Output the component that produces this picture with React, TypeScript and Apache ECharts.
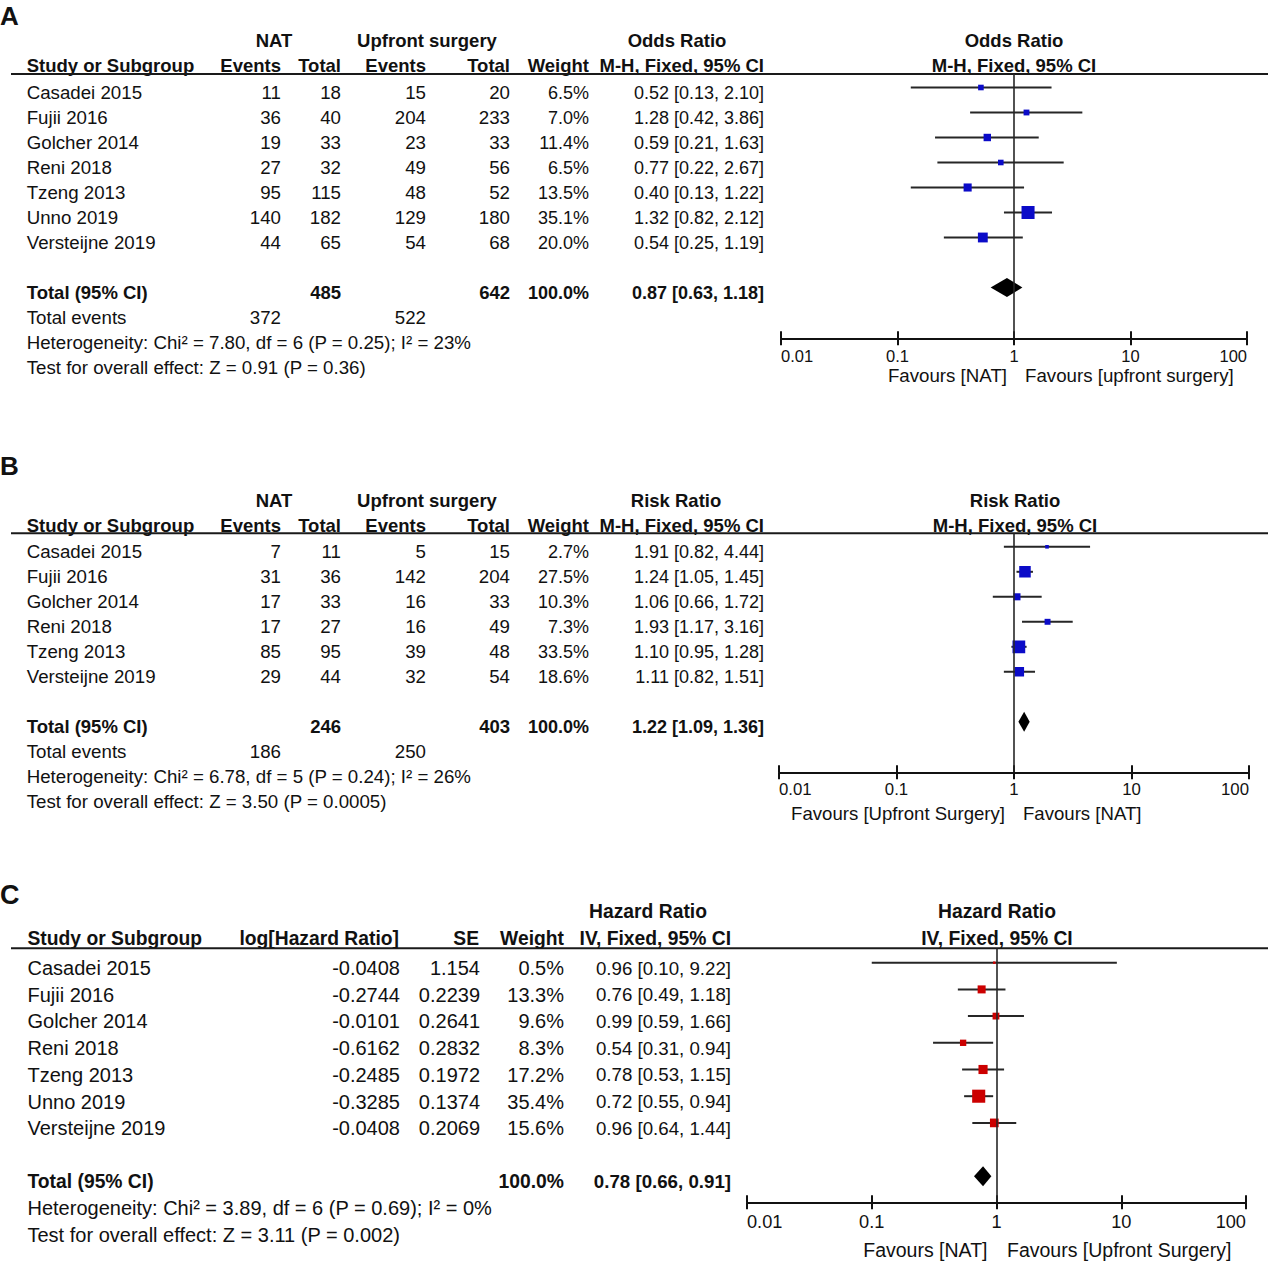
import React, { useEffect, useRef } from "react";
import * as echarts from "echarts";

// ---------------- Panel A : Odds Ratio ----------------
const studiesA = ["Casadei 2015", "Fujii 2016", "Golcher 2014", "Reni 2018", "Tzeng 2013", "Unno 2019", "Versteijne 2019"];
const natEventsA = [11, 36, 19, 27, 95, 140, 44];
const natTotalA = [18, 40, 33, 32, 115, 182, 65];
const upEventsA = [15, 204, 23, 49, 48, 129, 54];
const upTotalA = [20, 233, 33, 56, 52, 180, 68];
const weightA = [6.5, 7.0, 11.4, 6.5, 13.5, 35.1, 20.0];
const estA = [0.52, 1.28, 0.59, 0.77, 0.4, 1.32, 0.54];
const lowA = [0.13, 0.42, 0.21, 0.22, 0.13, 0.82, 0.25];
const highA = [2.1, 3.86, 1.63, 2.67, 1.22, 2.12, 1.19];
const totalsA = [485, 642];
const totalEventsA = [372, 522];
const pooledA = [0.87, 0.63, 1.18];
const hetA = "Heterogeneity: Chi² = 7.80, df = 6 (P = 0.25); I² = 23%";
const testA = "Test for overall effect: Z = 0.91 (P = 0.36)";
const favoursA = ["Favours [NAT]", "Favours [upfront surgery]"];

// ---------------- Panel B : Risk Ratio ----------------
const studiesB = ["Casadei 2015", "Fujii 2016", "Golcher 2014", "Reni 2018", "Tzeng 2013", "Versteijne 2019"];
const natEventsB = [7, 31, 17, 17, 85, 29];
const natTotalB = [11, 36, 33, 27, 95, 44];
const upEventsB = [5, 142, 16, 16, 39, 32];
const upTotalB = [15, 204, 33, 49, 48, 54];
const weightB = [2.7, 27.5, 10.3, 7.3, 33.5, 18.6];
const estB = [1.91, 1.24, 1.06, 1.93, 1.1, 1.11];
const lowB = [0.82, 1.05, 0.66, 1.17, 0.95, 0.82];
const highB = [4.44, 1.45, 1.72, 3.16, 1.28, 1.51];
const totalsB = [246, 403];
const totalEventsB = [186, 250];
const pooledB = [1.22, 1.09, 1.36];
const hetB = "Heterogeneity: Chi² = 6.78, df = 5 (P = 0.24); I² = 26%";
const testB = "Test for overall effect: Z = 3.50 (P = 0.0005)";
const favoursB = ["Favours [Upfront Surgery]", "Favours [NAT]"];

// ---------------- Panel C : Hazard Ratio ----------------
const studiesC = ["Casadei 2015", "Fujii 2016", "Golcher 2014", "Reni 2018", "Tzeng 2013", "Unno 2019", "Versteijne 2019"];
const logHrC = ["-0.0408", "-0.2744", "-0.0101", "-0.6162", "-0.2485", "-0.3285", "-0.0408"];
const seC = ["1.154", "0.2239", "0.2641", "0.2832", "0.1972", "0.1374", "0.2069"];
const weightC = [0.5, 13.3, 9.6, 8.3, 17.2, 35.4, 15.6];
const estC = [0.96, 0.76, 0.99, 0.54, 0.78, 0.72, 0.96];
const lowC = [0.1, 0.49, 0.59, 0.31, 0.53, 0.55, 0.64];
const highC = [9.22, 1.18, 1.66, 0.94, 1.15, 0.94, 1.44];
const pooledC = [0.78, 0.66, 0.91];
const hetC = "Heterogeneity: Chi² = 3.89, df = 6 (P = 0.69); I² = 0%";
const testC = "Test for overall effect: Z = 3.11 (P = 0.002)";
const favoursC = ["Favours [NAT]", "Favours [Upfront Surgery]"];

// ---------------- shared axis ----------------
const tickValues = [0.01, 0.1, 1, 10, 100];
const tickLabels = ["0.01", "0.1", "1", "10", "100"];

const FONT = "'Liberation Sans', Arial, sans-serif";
const INK = "#111";

// layout (pixels)
const LA = { rowY0: 92.5, rowH: 25, fs: 18.7, bfs: 18.5, cfs: 18, tfs: 16.5, ffs: 18.7, lineY: 74, axisY: 338.3, h1Y: 40.2, h2Y: 65.2, axL: 781, axR: 1247, favY: 375, favLx: 1007, favRx: 1025, letterY: 16, margin: 9, markDy: -5, diamondH: 19, leftX: 26.7 };
const LB = { rowY0: 551.8, rowH: 25, fs: 18.7, bfs: 18.5, cfs: 18, tfs: 16.8, ffs: 18.6, lineY: 533.3, axisY: 772.3, h1Y: 500.2, h2Y: 525.2, axL: 779, axR: 1249, favY: 813.5, favLx: 1005, favRx: 1023, letterY: 466, margin: 8.4, markDy: -5, diamondH: 20, leftX: 26.7 };
const LC = { rowY0: 968, rowH: 26.7, fs: 20, bfs: 19.3, cfs: 18.7, tfs: 18.2, ffs: 19.5, lineY: 948.3, axisY: 1202.3, h1Y: 911.4, h2Y: 938, axL: 747, axR: 1246, favY: 1249.8, favLx: 987.5, favRx: 1007, letterY: 895, margin: 10.6, markDy: -5.3, diamondH: 20, leftX: 27.5 };

function txt(text: string, x: number, y: number, size: number, align: string = "left", bold = false) {
  return {
    type: "text",
    x,
    y,
    silent: true,
    style: {
      text,
      fill: INK,
      fontFamily: FONT,
      fontSize: size,
      fontWeight: bold ? "bold" : "normal",
      align,
      verticalAlign: "middle",
    },
  };
}

function hline(y: number) {
  return { type: "line", silent: true, shape: { x1: 11, y1: y, x2: 1268, y2: y }, style: { stroke: "#1a1a1a", lineWidth: 2 } };
}

const ci = (e: number, l: number, h: number) => `${e.toFixed(2)} [${l.toFixed(2)}, ${h.toFixed(2)}]`;
const pct = (w: number) => `${w.toFixed(1)}%`;

function buildTexts() {
  const els: any[] = [];
  // ----- A -----
  {
    const L = LA;
    els.push(txt("A", 0, L.letterY, 26, "left", true));
    els.push(txt("NAT", 274, L.h1Y, L.bfs, "center", true));
    els.push(txt("Upfront surgery", 427, L.h1Y, L.bfs, "center", true));
    els.push(txt("Odds Ratio", 677, L.h1Y, L.bfs, "center", true));
    els.push(txt("Odds Ratio", 1014, L.h1Y, L.bfs, "center", true));
    els.push(txt("Study or Subgroup", L.leftX, L.h2Y, L.bfs, "left", true));
    els.push(txt("Events", 281, L.h2Y, L.bfs, "right", true));
    els.push(txt("Total", 341, L.h2Y, L.bfs, "right", true));
    els.push(txt("Events", 426, L.h2Y, L.bfs, "right", true));
    els.push(txt("Total", 510, L.h2Y, L.bfs, "right", true));
    els.push(txt("Weight", 589, L.h2Y, L.bfs, "right", true));
    els.push(txt("M-H, Fixed, 95% CI", 764, L.h2Y, L.bfs, "right", true));
    els.push(txt("M-H, Fixed, 95% CI", 1014, L.h2Y, L.bfs, "center", true));
    els.push(hline(L.lineY));
    studiesA.forEach((s, i) => {
      const y = L.rowY0 + i * L.rowH;
      els.push(txt(s, L.leftX, y, L.fs));
      els.push(txt(String(natEventsA[i]), 281, y, L.fs, "right"));
      els.push(txt(String(natTotalA[i]), 341, y, L.fs, "right"));
      els.push(txt(String(upEventsA[i]), 426, y, L.fs, "right"));
      els.push(txt(String(upTotalA[i]), 510, y, L.fs, "right"));
      els.push(txt(pct(weightA[i]), 589, y, L.cfs, "right"));
      els.push(txt(ci(estA[i], lowA[i], highA[i]), 764, y, L.cfs, "right"));
    });
    const n = studiesA.length;
    const yT = L.rowY0 + (n + 1) * L.rowH;
    els.push(txt("Total (95% CI)", L.leftX, yT, L.bfs, "left", true));
    els.push(txt(String(totalsA[0]), 341, yT, L.bfs, "right", true));
    els.push(txt(String(totalsA[1]), 510, yT, L.bfs, "right", true));
    els.push(txt("100.0%", 589, yT, L.cfs, "right", true));
    els.push(txt(ci(pooledA[0], pooledA[1], pooledA[2]), 764, yT, L.cfs, "right", true));
    const yE = L.rowY0 + (n + 2) * L.rowH;
    els.push(txt("Total events", L.leftX, yE, L.fs));
    els.push(txt(String(totalEventsA[0]), 281, yE, L.fs, "right"));
    els.push(txt(String(totalEventsA[1]), 426, yE, L.fs, "right"));
    els.push(txt(hetA, L.leftX, L.rowY0 + (n + 3) * L.rowH, L.fs));
    els.push(txt(testA, L.leftX, L.rowY0 + (n + 4) * L.rowH, L.fs));
    els.push(txt(favoursA[0], L.favLx, L.favY, L.ffs, "right"));
    els.push(txt(favoursA[1], L.favRx, L.favY, L.ffs, "left"));
  }
  // ----- B -----
  {
    const L = LB;
    els.push(txt("B", 0, L.letterY, 26, "left", true));
    els.push(txt("NAT", 274, L.h1Y, L.bfs, "center", true));
    els.push(txt("Upfront surgery", 427, L.h1Y, L.bfs, "center", true));
    els.push(txt("Risk Ratio", 676, L.h1Y, L.bfs, "center", true));
    els.push(txt("Risk Ratio", 1015, L.h1Y, L.bfs, "center", true));
    els.push(txt("Study or Subgroup", L.leftX, L.h2Y, L.bfs, "left", true));
    els.push(txt("Events", 281, L.h2Y, L.bfs, "right", true));
    els.push(txt("Total", 341, L.h2Y, L.bfs, "right", true));
    els.push(txt("Events", 426, L.h2Y, L.bfs, "right", true));
    els.push(txt("Total", 510, L.h2Y, L.bfs, "right", true));
    els.push(txt("Weight", 589, L.h2Y, L.bfs, "right", true));
    els.push(txt("M-H, Fixed, 95% CI", 764, L.h2Y, L.bfs, "right", true));
    els.push(txt("M-H, Fixed, 95% CI", 1015, L.h2Y, L.bfs, "center", true));
    els.push(hline(L.lineY));
    studiesB.forEach((s, i) => {
      const y = L.rowY0 + i * L.rowH;
      els.push(txt(s, L.leftX, y, L.fs));
      els.push(txt(String(natEventsB[i]), 281, y, L.fs, "right"));
      els.push(txt(String(natTotalB[i]), 341, y, L.fs, "right"));
      els.push(txt(String(upEventsB[i]), 426, y, L.fs, "right"));
      els.push(txt(String(upTotalB[i]), 510, y, L.fs, "right"));
      els.push(txt(pct(weightB[i]), 589, y, L.cfs, "right"));
      els.push(txt(ci(estB[i], lowB[i], highB[i]), 764, y, L.cfs, "right"));
    });
    const n = studiesB.length;
    const yT = L.rowY0 + (n + 1) * L.rowH;
    els.push(txt("Total (95% CI)", L.leftX, yT, L.bfs, "left", true));
    els.push(txt(String(totalsB[0]), 341, yT, L.bfs, "right", true));
    els.push(txt(String(totalsB[1]), 510, yT, L.bfs, "right", true));
    els.push(txt("100.0%", 589, yT, L.cfs, "right", true));
    els.push(txt(ci(pooledB[0], pooledB[1], pooledB[2]), 764, yT, L.cfs, "right", true));
    const yE = L.rowY0 + (n + 2) * L.rowH;
    els.push(txt("Total events", L.leftX, yE, L.fs));
    els.push(txt(String(totalEventsB[0]), 281, yE, L.fs, "right"));
    els.push(txt(String(totalEventsB[1]), 426, yE, L.fs, "right"));
    els.push(txt(hetB, L.leftX, L.rowY0 + (n + 3) * L.rowH, L.fs));
    els.push(txt(testB, L.leftX, L.rowY0 + (n + 4) * L.rowH, L.fs));
    els.push(txt(favoursB[0], L.favLx, L.favY, L.ffs, "right"));
    els.push(txt(favoursB[1], L.favRx, L.favY, L.ffs, "left"));
  }
  // ----- C -----
  {
    const L = LC;
    els.push(txt("C", 0, L.letterY, 27, "left", true));
    els.push(txt("Hazard Ratio", 648, L.h1Y, L.bfs, "center", true));
    els.push(txt("Hazard Ratio", 997, L.h1Y, L.bfs, "center", true));
    els.push(txt("Study or Subgroup", L.leftX, L.h2Y, L.bfs, "left", true));
    els.push(txt("log[Hazard Ratio]", 399, L.h2Y, L.bfs, "right", true));
    els.push(txt("SE", 479, L.h2Y, L.bfs, "right", true));
    els.push(txt("Weight", 564, L.h2Y, L.bfs, "right", true));
    els.push(txt("IV, Fixed, 95% CI", 731, L.h2Y, L.bfs, "right", true));
    els.push(txt("IV, Fixed, 95% CI", 997, L.h2Y, L.bfs, "center", true));
    els.push(hline(L.lineY));
    studiesC.forEach((s, i) => {
      const y = L.rowY0 + i * L.rowH;
      els.push(txt(s, L.leftX, y, L.fs));
      els.push(txt(logHrC[i], 400, y, L.fs, "right"));
      els.push(txt(seC[i], 480, y, L.fs, "right"));
      els.push(txt(pct(weightC[i]), 564, y, L.fs, "right"));
      els.push(txt(ci(estC[i], lowC[i], highC[i]), 731, y, L.cfs, "right"));
    });
    const n = studiesC.length;
    const yT = L.rowY0 + (n + 1) * L.rowH;
    els.push(txt("Total (95% CI)", L.leftX, yT, L.bfs, "left", true));
    els.push(txt("100.0%", 564, yT, L.bfs, "right", true));
    els.push(txt(ci(pooledC[0], pooledC[1], pooledC[2]), 731, yT, L.cfs, "right", true));
    els.push(txt(hetC, L.leftX, L.rowY0 + (n + 2) * L.rowH, L.fs));
    els.push(txt(testC, L.leftX, L.rowY0 + (n + 3) * L.rowH, L.fs));
    els.push(txt(favoursC[0], L.favLx, L.favY, L.ffs, "right"));
    els.push(txt(favoursC[1], L.favRx, L.favY, L.ffs, "left"));
  }
  return els;
}

function forestItem(color: string) {
  return (_params: any, api: any) => {
    const r = api.value(3);
    const a = api.coord([api.value(1), r]);
    const b = api.coord([api.value(2), r]);
    const e = api.coord([api.value(0), r]);
    const s = Math.max(2.5, 2.2 * Math.sqrt(api.value(4)));
    return {
      type: "group",
      children: [
        { type: "line", shape: { x1: a[0], y1: a[1], x2: b[0], y2: b[1] }, style: { stroke: "#262626", lineWidth: 2 } },
        { type: "rect", shape: { x: e[0] - s / 2, y: e[1] - s / 2, width: s, height: s }, style: { fill: color } },
      ],
    };
  };
}

function diamondItem(h: number) {
  return (_params: any, api: any) => {
    const r = api.value(3);
    const a = api.coord([api.value(1), r]);
    const b = api.coord([api.value(2), r]);
    const e = api.coord([api.value(0), r]);
    return {
      type: "polygon",
      shape: { points: [[a[0], a[1]], [e[0], e[1] - h / 2], [b[0], b[1]], [e[0], e[1] + h / 2]] },
      style: { fill: "#000" },
    };
  };
}

function tickFmt(v: number) {
  let best = 0;
  tickValues.forEach((t, i) => {
    if (Math.abs(Math.log10(t) - Math.log10(v)) < Math.abs(Math.log10(tickValues[best]) - Math.log10(v))) best = i;
  });
  return tickLabels[best];
}

function buildOption() {
  const panels = [
    { L: LA, est: estA, low: lowA, high: highA, w: weightA, pooled: pooledA, n: studiesA.length, color: "#0b0bc8" },
    { L: LB, est: estB, low: lowB, high: highB, w: weightB, pooled: pooledB, n: studiesB.length, color: "#0b0bc8" },
    { L: LC, est: estC, low: lowC, high: highC, w: weightC, pooled: pooledC, n: studiesC.length, color: "#cc0000" },
  ];
  const grid = panels.map((p) => ({
    left: p.L.axL,
    top: p.L.lineY,
    width: p.L.axR - p.L.axL,
    height: p.L.axisY - p.L.lineY,
    outerBoundsMode: "none",
    containLabel: false,
  }));
  const xAxis: any[] = [];
  panels.forEach((p, i) => {
    xAxis.push({
      type: "log",
      logBase: 10,
      gridIndex: i,
      min: 0.01,
      max: 100,
      position: "bottom",
      axisLine: { show: true, onZero: false, lineStyle: { color: INK, width: 2 } },
      axisTick: { show: true, inside: false, length: 7, lineStyle: { color: INK, width: 2 } },
      axisLabel: {
        show: true,
        margin: p.L.margin,
        fontSize: p.L.tfs,
        fontFamily: FONT,
        color: INK,
        alignMinLabel: "left",
        alignMaxLabel: "right",
        formatter: tickFmt,
      },
      splitLine: { show: false },
      minorTick: { show: false },
    });
    xAxis.push({
      type: "log",
      logBase: 10,
      gridIndex: i,
      min: 0.01,
      max: 100,
      position: "bottom",
      axisLine: { show: false, onZero: false },
      axisTick: { show: true, inside: true, length: 7, lineStyle: { color: INK, width: 2 } },
      axisLabel: { show: false },
      splitLine: { show: false },
    });
  });
  const yAxis = panels.map((p, i) => {
    const markY0 = p.L.rowY0 + p.L.markDy;
    return {
      type: "value",
      gridIndex: i,
      inverse: true,
      min: (p.L.lineY - markY0) / p.L.rowH,
      max: (p.L.axisY - markY0) / p.L.rowH,
      show: false,
      splitLine: { show: false },
    };
  });
  const series: any[] = [];
  panels.forEach((p, i) => {
    const rows = p.est.map((e, k) => [e, p.low[k], p.high[k], k, p.w[k]]);
    series.push({
      type: "custom",
      xAxisIndex: 2 * i,
      yAxisIndex: i,
      silent: true,
      clip: false,
      renderItem: forestItem(p.color),
      encode: { x: [0, 1, 2], y: 3 },
      data: rows,
      markLine: {
        silent: true,
        symbol: "none",
        label: { show: false },
        lineStyle: { color: "#262626", width: 1.6, type: "solid" },
        emphasis: { disabled: true },
        data: [{ xAxis: 1 }],
      },
      z: 3,
    });
    series.push({
      type: "custom",
      xAxisIndex: 2 * i,
      yAxisIndex: i,
      silent: true,
      clip: false,
      renderItem: diamondItem(p.L.diamondH),
      encode: { x: [0, 1, 2], y: 3 },
      data: [[p.pooled[0], p.pooled[1], p.pooled[2], p.n + 1]],
      z: 4,
    });
  });
  return {
    animation: false,
    backgroundColor: "#ffffff",
    grid,
    xAxis,
    yAxis,
    series,
    graphic: { elements: buildTexts() },
  };
}

export default function App() {
  const ref = useRef<HTMLDivElement>(null);
  useEffect(() => {
    if (!ref.current) return;
    const chart = echarts.init(ref.current, undefined, { renderer: "svg" });
    chart.setOption(buildOption() as any);
    return () => chart.dispose();
  }, []);
  return (
    <div
      ref={ref}
      style={{ position: "absolute", left: 0, top: 0, width: 1274, height: 1268, background: "#fff" }}
    />
  );
}
